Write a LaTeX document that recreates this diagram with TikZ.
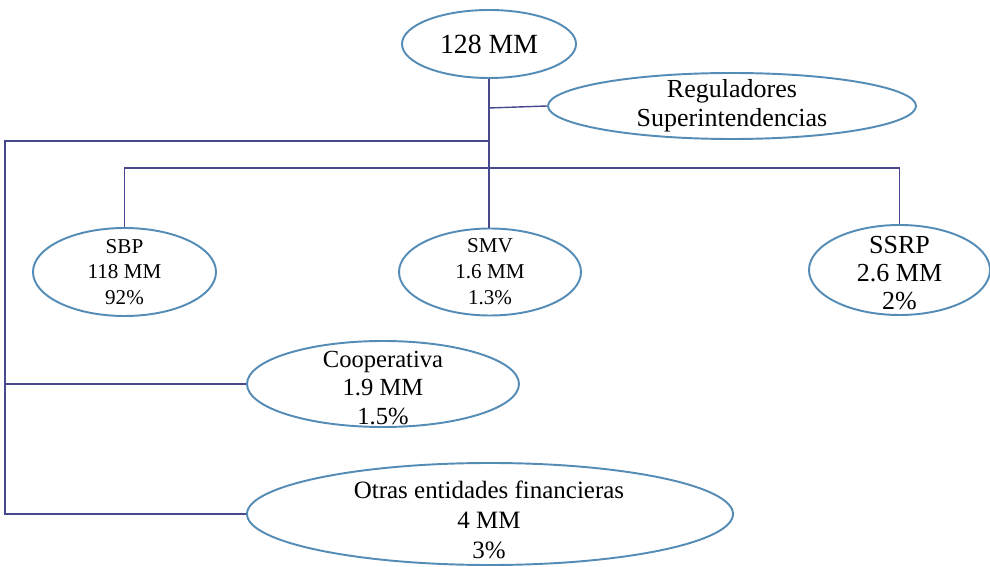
\documentclass[tikz,border=0pt]{standalone}
\usepackage{fontspec}
\setmainfont{Liberation Serif}
\usetikzlibrary{shapes.geometric}
\definecolor{ovalblue}{RGB}{84,140,182}
\definecolor{linkblue}{RGB}{72,72,142}
\newcommand{\fs}[2]{\fontsize{#1}{#2}\selectfont}
\begin{document}
\begin{tikzpicture}[scale=0.2,
  oval/.style={ellipse, draw=ovalblue, line width=1.1pt, inner sep=0pt},
  txt/.style={align=center, inner sep=0pt},
  link/.style={draw=linkblue, line width=0.8pt}]
  \useasboundingbox (0,0) rectangle (99,-56.7);
  % ovals
  \node [oval, minimum width=3.48cm, minimum height=1.36cm] (top) at (48.9,-4.4) {};
  \node [txt, font=\fs{15.8}{18}] (top-t) at (top) {128 MM};
  \node [oval, minimum width=7.36cm, minimum height=1.32cm] (reg) at (73.2,-10.6) {};
  \node [txt, font=\fs{14.8}{16.5}] (reg-t) at (reg) {Reguladores\\Superintendencias};
  \node [oval, minimum width=3.66cm, minimum height=1.76cm] (sbp) at (12.45,-27.2) {};
  \node [txt, font=\fs{12}{14.7}] (sbp-t) at (sbp) {SBP\\118 MM\\92\%};
  \node [oval, minimum width=3.64cm, minimum height=1.74cm] (smv) at (49.0,-27.2) {};
  \node [txt, font=\fs{12}{14.7}] (smv-t) at (smv) {SMV\\1.6 MM\\1.3\%};
  \node [oval, minimum width=3.62cm, minimum height=1.8cm] (ssrp) at (89.95,-27.0) {};
  \node [txt, font=\fs{14.8}{16}] (ssrp-t) at (89.95,-27.3) {SSRP\\2.6 MM\\2\%};
  \node [oval, minimum width=5.44cm, minimum height=1.72cm] (coop) at (38.3,-38.4) {};
  \node [txt, font=\fs{14}{16.4}] (coop-t) at (38.3,-38.8) {Cooperativa\\1.9 MM\\1.5\%};
  \node [oval, minimum width=9.72cm, minimum height=2.04cm] (otras) at (49.0,-51.4) {};
  \node [txt, font=\fs{14.2}{17}] (otras-t) at (48.9,-52.0) {Otras entidades financieras\\4 MM\\3\%};
  % connectors
  \coordinate (reg-j) at (48.9,-10.8);
  \coordinate (hub) at (48.9,-14.1);
  \coordinate (left) at (0.5,-14.1);
  \coordinate (bar) at (48.9,-16.8);
  \draw [link] (top.south) -- (top.south |- smv.north);
  \draw [link] (reg-j) -- (reg.west);
  \draw [link] (sbp.north) |- (bar) -| (ssrp.north);
  \draw [link] (hub) -- (left) |- (otras.west);
  \draw [link] (left |- coop.west) -- (coop.west);
\end{tikzpicture}
\end{document}
